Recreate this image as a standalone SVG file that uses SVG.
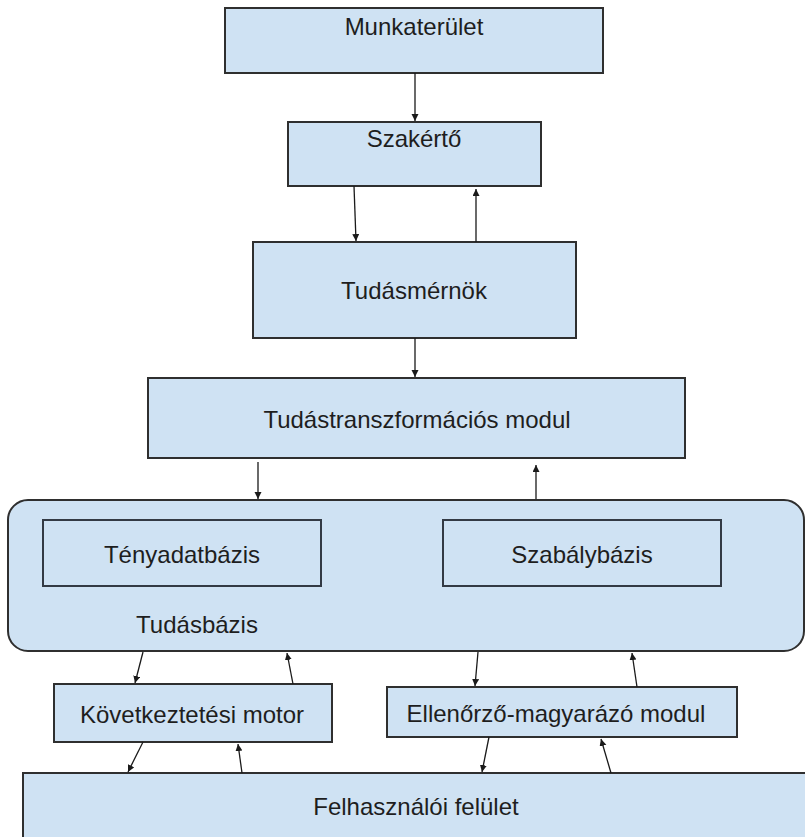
<svg xmlns="http://www.w3.org/2000/svg" width="805" height="837" viewBox="0 0 805 837">
<style>
.box{fill:#cfe2f3;stroke:#2f2f2f;stroke-width:2}
.inner{fill:#cfe2f3;stroke:#333a44;stroke-width:2}
.lbl{font-family:"Liberation Sans",Arial,sans-serif;font-size:24px;fill:#1e1e1e;text-anchor:middle}
.con line{stroke:#1a1a1a;stroke-width:1.3;fill:none;marker-end:url(#ah)}
</style>
<defs>
<marker id="ah" markerUnits="userSpaceOnUse" markerWidth="8" markerHeight="8" refX="7" refY="3.5" orient="auto">
<path d="M0,0 L7,3.5 L0,7 Z" fill="#1a1a1a"/>
</marker>
</defs>
<rect width="805" height="837" fill="#ffffff"/>
<g id="munkaterulet">
<rect class="box" x="225" y="8" width="378" height="65"/>
<text class="lbl" x="414" y="35">Munkaterület</text>
</g>
<g id="szakerto">
<rect class="box" x="288" y="122" width="253" height="64"/>
<text class="lbl" x="414" y="147">Szakértő</text>
</g>
<g id="tudasmernok">
<rect class="box" x="253" y="242" width="323" height="96"/>
<text class="lbl" x="414" y="299">Tudásmérnök</text>
</g>
<g id="tudastranszformacios">
<rect class="box" x="148" y="378" width="537" height="80"/>
<text class="lbl" x="417" y="428">Tudástranszformációs modul</text>
</g>
<g id="tudasbazis">
<rect class="box" x="8" y="500" width="796" height="151" rx="20" ry="20"/>
<text class="lbl" x="197" y="633">Tudásbázis</text>
</g>
<g id="tenyadatbazis">
<rect class="inner" x="43" y="520" width="278" height="66"/>
<text class="lbl" x="182" y="563">Tényadatbázis</text>
</g>
<g id="szabalybazis">
<rect class="inner" x="443" y="520" width="278" height="66"/>
<text class="lbl" x="582" y="563">Szabálybázis</text>
</g>
<g id="kovetkeztetesi">
<rect class="box" x="54" y="684" width="278" height="58"/>
<text class="lbl" x="192" y="723">Következtetési motor</text>
</g>
<g id="ellenorzo">
<rect class="box" x="387" y="687" width="350" height="50"/>
<text class="lbl" x="556" y="722">Ellenőrző-magyarázó modul</text>
</g>
<g id="felhasznaloi">
<rect class="box" x="23" y="773" width="800" height="80"/>
<text class="lbl" x="416" y="815">Felhasználói felület</text>
</g>
<g id="connectors" class="con">
<line x1="415" y1="73" x2="415" y2="121"/>
<line x1="354" y1="186" x2="356" y2="241"/>
<line x1="476" y1="242" x2="476" y2="189"/>
<line x1="415" y1="338" x2="415" y2="377"/>
<line x1="258" y1="462" x2="258" y2="499"/>
<line x1="536" y1="499" x2="536" y2="465"/>
<line x1="143" y1="652" x2="135" y2="683"/>
<line x1="293" y1="684" x2="287" y2="653"/>
<line x1="478" y1="652" x2="475" y2="686"/>
<line x1="637" y1="687" x2="632" y2="653"/>
<line x1="143" y1="742" x2="128" y2="772"/>
<line x1="242" y1="773" x2="238" y2="744"/>
<line x1="489" y1="737" x2="482" y2="772"/>
<line x1="611" y1="773" x2="601" y2="739"/>
</g>
</svg>
